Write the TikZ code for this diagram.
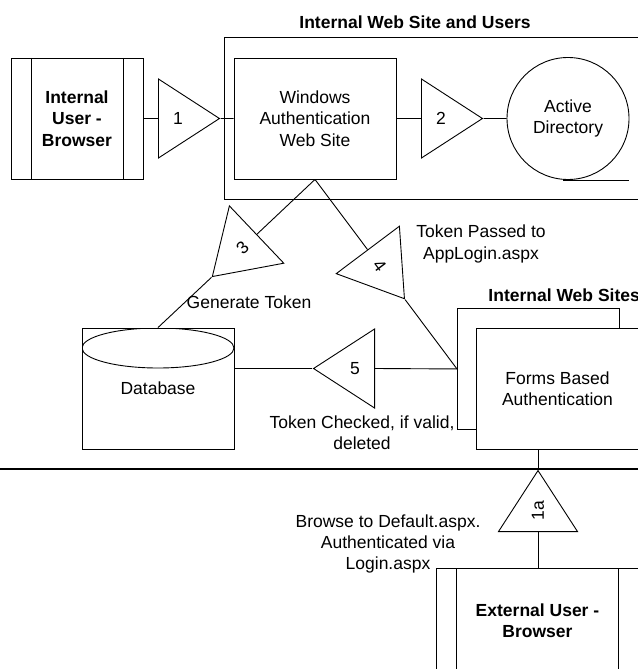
\documentclass[tikz,border=0pt]{standalone}
\usepackage{fontspec}
\setmainfont{Liberation Sans}
\usetikzlibrary{shapes.geometric,calc,positioning}
\newcommand\diagfont{\fontsize{17.5bp}{21.3bp}\selectfont}
\tikzset
{
    boxnode/.style = {rectangle, draw=black, align=center, minimum width=162bp, minimum height=121bp, inner sep=0pt},
    usernode/.style = {rectangle, draw=black, align=center, font=\diagfont\bfseries, minimum height=121bp, inner sep=0pt,
        path picture={
            \draw ([xshift=20bp]path picture bounding box.north west) -- ([xshift=20bp]path picture bounding box.south west);
            \draw ([xshift=-20bp]path picture bounding box.north east) -- ([xshift=-20bp]path picture bounding box.south east);
        }},
    dbnode/.style = {rectangle, draw=black, align=center, minimum width=152bp, minimum height=121bp, inner sep=0pt,
        path picture={
            \draw ([yshift=-20bp]path picture bounding box.north) ellipse [x radius=76bp, y radius=20bp];
        }},
    storenode/.style = {circle, draw=black, align=center, minimum size=122bp, inner sep=0pt},
    flowtri/.style = {isosceles triangle, isosceles triangle stretches, draw=black, inner sep=0pt, minimum width=79bp, minimum height=61bp},
    grouptitle/.style = {font=\diagfont\bfseries, inner sep=0pt},
    note/.style = {align=center, inner sep=0pt}
}

\begin{document}
\begin{tikzpicture}[x=1bp, y=-1bp, line width=0.9bp, font=\diagfont]
\useasboundingbox (0,0) rectangle (638,669);

% internal web site and users
\node[draw=black, minimum width=420bp, minimum height=162bp, inner sep=0pt, anchor=north west] (users) at (224,37) {};
\node[grouptitle, anchor=base] at (415,29) {Internal Web Site and Users};
\node[usernode, minimum width=132bp] (intuser) at (77,118.5) {Internal\\User -\\Browser};
\node[boxnode] (win) at (315,118.5) {Windows\\Authentication\\Web Site};
\node[flowtri, anchor=west] (t1) at (158,118.5) {1};
\node[flowtri, anchor=west] (t2) at (421,118.5) {2};
\node[storenode] (ad) at (568,118.5) {Active\\Directory};
\draw (intuser.east) -- (t1.west);
\draw (t1.east) -- (win.west);
\draw (win.east) -- (t2.west);
\draw (t2.east) -- (ad.west);
\draw ([xshift=-5bp]ad.south) -- ([xshift=61bp]ad.south);

% token
\node[note] at (249,302) {Generate Token};
\node[note] at (481,244) {Token Passed to\\AppLogin.aspx};
\node[note] at (362,432.5) {Token Checked, if valid,\\deleted};
\node[dbnode] (db) at (158,388.5) {Database};
\node[boxnode, anchor=north west, fill=white] (websites) at (457,308) {};
\node[boxnode, fill=white] (forms) at (557.5,388.5) {Forms Based\\Authentication};
\node[grouptitle, anchor=base west] at (488,301) {Internal Web Sites};
\node[flowtri, rotate=43.5, shape border rotate=180, anchor=east] (t3) at ($(win.south)!0.37!(db.north)$) {3};
\node[flowtri, rotate=-53.1, anchor=west] (t4) at ($(win.south)!0.37!(websites.west)$) {4};
\node[flowtri, shape border rotate=180, anchor=east] (t5) at (375,368.5) {5};
\draw (win.south) -- (t3.east);
\draw (t3.west) -- (db.north);
\draw (win.south) -- (t4.west);
\draw (t4.east) -- (websites.west);
\draw (t5.west) -- (t5.west -| db.east);
\draw (t5.east) -- (websites.west);

% external user
\draw[line width=1.3bp] (0,469) -- (638,469);
\node[flowtri, rotate=90, anchor=west] (t1a) at (538,532) {1a};
\node[usernode, minimum width=202bp, minimum height=104bp, anchor=north] (extuser) at (537.5,568) {External User -\\Browser};
\node[note] at (388,544) {Browse to Default.aspx.\\Authenticated via\\Login.aspx};
\draw (t1a.east) -- (t1a.east |- forms.south);
\draw (t1a.west) -- (t1a.west |- extuser.north);
\end{tikzpicture}
\end{document}
